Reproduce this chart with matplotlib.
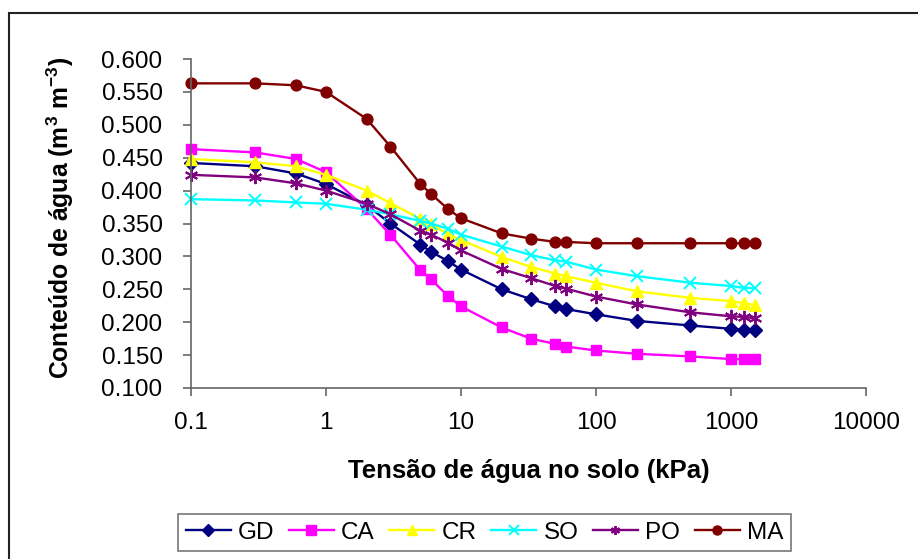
import matplotlib
matplotlib.use("Agg")
import matplotlib.pyplot as plt
from matplotlib.patches import Rectangle
from matplotlib.ticker import FixedLocator, FixedFormatter, NullLocator

plt.rcParams["font.family"] = ["Liberation Sans", "DejaVu Sans"]
plt.rcParams["mathtext.fontset"] = "custom"
plt.rcParams["mathtext.bf"] = "Liberation Sans:bold"
plt.rcParams["mathtext.rm"] = "Liberation Sans:bold"
plt.rcParams["mathtext.default"] = "bf"

# soil water tension (kPa)
tension = [0.1, 0.3, 0.6, 1, 2, 3, 5, 6, 8, 10, 20, 33, 50, 60, 100, 200, 500, 1000, 1250, 1500]

# water content (m3 m-3) per soil
gd = [0.442, 0.437, 0.426, 0.410, 0.378, 0.350, 0.318, 0.307, 0.293, 0.280,
      0.250, 0.235, 0.224, 0.220, 0.212, 0.202, 0.195, 0.190, 0.188, 0.188]
ca = [0.463, 0.458, 0.448, 0.428, 0.372, 0.333, 0.279, 0.265, 0.240, 0.224,
      0.192, 0.175, 0.167, 0.163, 0.157, 0.152, 0.148, 0.144, 0.144, 0.144]
cr = [0.448, 0.443, 0.437, 0.424, 0.400, 0.381, 0.357, 0.349, 0.334, 0.325,
      0.299, 0.284, 0.274, 0.270, 0.260, 0.247, 0.237, 0.232, 0.229, 0.226]
so = [0.387, 0.385, 0.382, 0.380, 0.371, 0.364, 0.354, 0.350, 0.342, 0.333,
      0.315, 0.302, 0.294, 0.292, 0.280, 0.270, 0.260, 0.255, 0.252, 0.252]
po = [0.424, 0.420, 0.411, 0.400, 0.380, 0.364, 0.339, 0.333, 0.321, 0.309,
      0.281, 0.267, 0.255, 0.251, 0.239, 0.227, 0.215, 0.209, 0.208, 0.206]
ma = [0.563, 0.563, 0.560, 0.550, 0.509, 0.467, 0.410, 0.395, 0.372, 0.358,
      0.335, 0.327, 0.322, 0.322, 0.320, 0.320, 0.320, 0.320, 0.320, 0.320]

series = [
    ("GD", gd, "#000080", "D", 7.0),
    ("CA", ca, "#FF00FF", "s", 7.2),
    ("CR", cr, "#FFFF00", "^", 8.5),
    ("SO", so, "#00FFFF", "x", 8.0),
    ("PO", po, "#800080", (6, 2, 0), 9.5),
    ("MA", ma, "#800000", "o", 7.8),
]

x_ticks = [0.1, 1, 10, 100, 1000, 10000]
x_tick_labels = ["0.1", "1", "10", "100", "1000", "10000"]
y_ticks = [0.100, 0.150, 0.200, 0.250, 0.300, 0.350, 0.400, 0.450, 0.500, 0.550, 0.600]

fig = plt.figure(figsize=(9.18, 5.59), dpi=100)
ax = fig.add_axes([191 / 918, 1 - 388 / 559, 675 / 918, 329 / 559])

for name, vals, col, mk, ms in series:
    mew = 1.4 if mk in ("x", (6, 2, 0)) else 1.0
    ax.plot(tension, vals, color=col, lw=1.7, marker=mk, ms=ms,
            mfc=col, mec=col, mew=mew, label=name, clip_on=False)

ax.set_xscale("log")
ax.set_xlim(0.1, 10000)
ax.set_ylim(0.1, 0.6)
ax.xaxis.set_major_locator(FixedLocator(x_ticks))
ax.xaxis.set_major_formatter(FixedFormatter(x_tick_labels))
ax.xaxis.set_minor_locator(NullLocator())
ax.set_yticks(y_ticks)
ax.set_yticklabels([f"{v:.3f}" for v in y_ticks])

for s in ("top", "right"):
    ax.spines[s].set_visible(False)
for s in ("left", "bottom"):
    ax.spines[s].set_color("#666666")
    ax.spines[s].set_linewidth(1.2)
ax.tick_params(axis="both", direction="out", length=5.5, width=1.2,
               color="#666666", labelsize=17.5)
ax.tick_params(axis="x", pad=12)
ax.tick_params(axis="y", pad=15)

ax.set_xlabel("Tensão de água no solo (kPa)", fontsize=18.5, fontweight="bold")
ax.set_ylabel("Conteúdo de água (m$^{3}$ m$^{-3}$)", fontsize=17.8, fontweight="bold")
ax.xaxis.set_label_coords(0.5, (388 - 471) / 329)
ax.xaxis.label.set_va("center")
ax.yaxis.set_label_coords((60 - 191) / 675, (388 - 217.5) / 329)
ax.yaxis.label.set_va("center")

leg = fig.legend(loc="center", bbox_to_anchor=(484.5 / 918, 1 - 532.5 / 559),
                 ncol=6, fontsize=17.5, frameon=True, fancybox=False,
                 handlelength=1.85, handletextpad=0.3, columnspacing=0.6,
                 borderpad=0.3, borderaxespad=0)
leg.get_frame().set_edgecolor("#555555")
leg.get_frame().set_linewidth(1.2)
for h in leg.legend_handles:
    h.set_markersize(6.5)

# chart area border (runs off the right and bottom edges)
fig.patches.append(Rectangle((8.5 / 918, -0.1), 1.2, 1.1 - 13.5 / 559,
                             transform=fig.transFigure, fill=False,
                             edgecolor="#222222", lw=1.5))

fig.savefig("out.png", dpi=100)
